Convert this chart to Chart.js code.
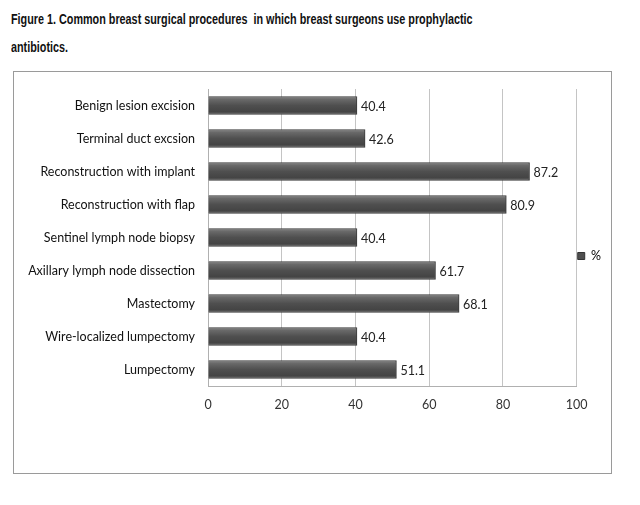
<!DOCTYPE html>
<html>
<head>
<meta charset="utf-8">
<script src="https://cdn.jsdelivr.net/npm/chart.js@4.4.0/dist/chart.umd.min.js"></script>
<style>
  body { margin: 0; background: #fff; width: 640px; height: 505px; position: relative; overflow: hidden; }
  .title { position: absolute; left: 11px; top: 5px; font: bold 15px 'Liberation Sans', Arial, sans-serif; line-height: 28px; color: #111;
           transform: scaleX(0.72); transform-origin: 0 0; white-space: nowrap; }
  .frame { position: absolute; left: 13px; top: 71px; width: 597px; height: 401px; border: 1px solid #9a9a9a; }
  canvas { position: absolute; left: 0; top: 0; }
</style>
</head>
<body>
<div class="title">Figure 1. Common breast surgical procedures &nbsp;in which breast surgeons use prophylactic<br>antibiotics.</div>
<div class="frame"><canvas id="chart" width="597" height="401"></canvas></div>
<script>
const categories = [
    'Benign lesion excision',
    'Terminal duct excsion',
    'Reconstruction with implant',
    'Reconstruction with flap',
    'Sentinel lymph node biopsy',
    'Axillary lymph node dissection',
    'Mastectomy',
    'Wire-localized lumpectomy',
    'Lumpectomy'
];
const percents = [40.4, 42.6, 87.2, 80.9, 40.4, 61.7, 68.1, 40.4, 51.1];
const xTicks = [0, 20, 40, 60, 80, 100];

const labelFont = "Lato, 'Open Sans', sans-serif";

// shiny grey bar, like the old Excel bevel
function barFill(context) {
    const chart = context.chart;
    const yScale = chart.scales.y;
    if (!yScale || !chart.chartArea) return '#555';
    const y = yScale.getPixelForValue(context.dataIndex);
    const g = chart.ctx.createLinearGradient(0, y - 9, 0, y + 9);
    g.addColorStop(0, '#8c8c8c');
    g.addColorStop(0.15, '#6a6a6a');
    g.addColorStop(0.5, '#4f4f4f');
    g.addColorStop(0.85, '#444');
    g.addColorStop(1, '#6e6e6e');
    return g;
}

const valueLabels = {
    id: 'valueLabels',
    afterDatasetsDraw(chart) {
        const ctx = chart.ctx;
        const meta = chart.getDatasetMeta(0);
        ctx.save();
        ctx.font = '12.5px ' + labelFont;
        ctx.fillStyle = '#222';
        ctx.textAlign = 'left';
        ctx.textBaseline = 'middle';
        meta.data.forEach((bar, i) => {
            ctx.fillText(percents[i].toFixed(1), bar.x + 4, bar.y + 1);
        });
        ctx.restore();
    }
};

new Chart(document.getElementById('chart'), {
    type: 'bar',
    data: {
        labels: categories,
        datasets: [{
            label: '%',
            data: percents,
            backgroundColor: barFill,
            borderColor: '#3a3a3a',
            borderWidth: 1,
            barThickness: 18
        }]
    },
    plugins: [valueLabels],
    options: {
        indexAxis: 'y',
        responsive: false,
        animation: false,
        layout: { padding: { top: 17, bottom: 50, left: 0, right: 0 } },
        scales: {
            x: {
                min: 0,
                max: 100,
                afterBuildTicks: (scale) => { scale.ticks = xTicks.map(v => ({ value: v })); },
                grid: { color: '#c4c4c4', drawTicks: false },
                border: { color: '#b0b0b0' },
                ticks: { color: '#333', font: { family: labelFont, size: 12.5 }, padding: 11 }
            },
            y: {
                afterFit: (scale) => { scale.width = 194; },
                grid: { display: false },
                border: { color: '#b0b0b0' },
                ticks: { color: '#111', font: { family: labelFont, size: 12.5 }, padding: 5 }
            }
        },
        plugins: {
            legend: {
                position: 'right',
                labels: {
                    boxWidth: 7,
                    boxHeight: 7,
                    padding: 1,
                    color: '#222',
                    font: { family: labelFont, size: 12.5 },
                    generateLabels: () => [{ text: '%', fillStyle: '#4f4f4f', strokeStyle: '#333', lineWidth: 1 }]
                }
            },
            tooltip: { enabled: false }
        }
    }
});
</script>
</body>
</html>
